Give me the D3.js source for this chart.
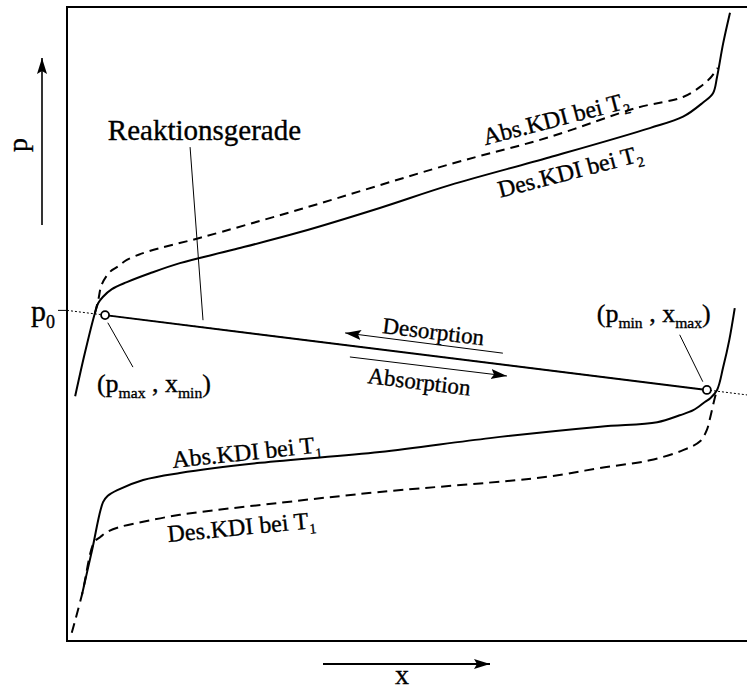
<!DOCTYPE html>
<html>
<head>
<meta charset="utf-8">
<script src="https://cdn.jsdelivr.net/npm/d3@7"></script>
<style>
body { margin: 0; background: #fff; }
svg text { font-family: "Liberation Serif", Tinos, "Times New Roman", Times, "DejaVu Serif", serif; fill: #000; stroke: #000; stroke-width: 0.35px; white-space: pre; }
</style>
</head>
<body>
<script>
// isotherms, x and p in % of the diagram range (schematic, no ticks)
var desT2X = [1.2, 2.6, 4.1, 4.6, 5.3, 6.6, 8.8, 12.2, 16.6, 24.4, 34.3, 46.0, 56.3, 71.0, 85.7, 90.6, 93.5, 95.0, 95.6, 96.5, 97.5];
var desT2P = [38.6, 45.3, 51.7, 53.3, 54.3, 55.5, 56.6, 58.0, 59.6, 61.7, 64.5, 68.3, 71.9, 76.3, 80.9, 82.7, 84.9, 86.4, 89.0, 94.3, 99.1];

var absT2X = [4.1, 4.6, 5.1, 6.3, 7.4, 8.8, 11.8, 19.6, 34.3, 56.3, 71.0, 83.8, 90.6, 93.1, 94.6, 95.7];
var absT2P = [51.7, 53.8, 56.2, 58.2, 59.0, 60.1, 61.4, 63.6, 68.1, 75.2, 79.5, 84.1, 85.8, 87.4, 88.8, 90.4];

var absT1X = [2.2, 3.7, 5.3, 6.0, 7.4, 11.2, 16.6, 28.4, 46.0, 62.2, 78.4, 86.8, 90.1, 92.1, 93.8, 94.6, 95.6, 96.5, 97.4, 98.2];
var absT1P = [7.3, 14.4, 21.9, 22.9, 23.8, 25.4, 26.5, 28.1, 29.8, 32.0, 33.8, 34.5, 35.6, 36.4, 37.7, 38.3, 39.6, 43.2, 47.5, 52.5];

var desT1X = [0.7, 2.2, 4.0, 4.9, 5.9, 7.8, 11.2, 16.6, 31.3, 46.0, 70.6, 78.4, 85.7, 90.6, 93.1, 94.1, 94.6, 95.3, 95.6];
var desT1P = [1.3, 7.3, 15.6, 16.4, 17.2, 18.0, 18.8, 19.9, 21.8, 23.5, 25.9, 27.3, 28.5, 30.1, 31.5, 33.3, 35.3, 38.5, 39.6];

// Reaktionsgerade: (p_max, x_min) -> (p_min, x_max)
var reactX = [5.6, 94.1];
var reactP = [51.4, 39.6];

var labels = [
  {text: "Reaktionsgerade", x: 6.0, p: 79.1, angle: 0, size: 29},
  {text: "Abs.KDI bei T_{2}", x: 61.5, p: 78.2, angle: -14.5, size: 24},
  {text: "Des.KDI bei T_{2}", x: 63.7, p: 69.9, angle: -14.5, size: 24},
  {text: "Abs.KDI bei T_{1}", x: 15.6, p: 27.3, angle: -6, size: 24},
  {text: "Des.KDI bei T_{1}", x: 14.9, p: 15.6, angle: -5.5, size: 24},
  {text: "Desorption", x: 46.3, p: 48.6, angle: 7, size: 23},
  {text: "Absorption", x: 44.1, p: 40.7, angle: 7, size: 23},
  {text: "(p_{max} , x_{min})", x: 4.4, p: 39.3, angle: 0, size: 26},
  {text: "(p_{min} , x_{max})", x: 77.9, p: 50.3, angle: 0, size: 26}
];

var pointers = [
  [[18.1, 77.9], [20.0, 50.6]],
  [[6.0, 50.2], [9.7, 43.2]],
  [[90.1, 48.3], [93.5, 40.9]]
];

var arrows = [
  [[64.1, 45.4], [40.9, 48.6]],
  [[41.6, 44.8], [64.7, 41.8]]
];

var width = 747, height = 691;
var margin = {top: 7, right: 0, bottom: 50, left: 67};

var x = d3.scaleLinear().domain([0, 100]).range([margin.left, width - margin.right]);
var y = d3.scaleLinear().domain([0, 100]).range([height - margin.bottom, margin.top]);

var svg = d3.select("body").append("svg")
    .attr("width", width)
    .attr("height", height)
    .attr("font-family", "Liberation Serif, Tinos, Times New Roman, DejaVu Serif, serif");

var defs = svg.append("defs");
defs.append("marker")
    .attr("id", "head")
    .attr("markerUnits", "userSpaceOnUse")
    .attr("viewBox", "0 -6 16 12")
    .attr("refX", 16).attr("refY", 0)
    .attr("markerWidth", 16).attr("markerHeight", 12)
    .attr("orient", "auto")
  .append("path")
    .attr("d", "M0,-5L16,0L0,5L3,0Z");

var line = d3.line()
    .x(function(d) { return x(d[0]); })
    .y(function(d) { return y(d[1]); })
    .curve(d3.curveCatmullRom.alpha(0.5));

var straight = d3.line()
    .x(function(d) { return x(d[0]); })
    .y(function(d) { return y(d[1]); });

// frame, open on the right
svg.append("path")
    .attr("d", "M" + x(100) + "," + y(100) + "H" + x(0) + "V" + y(0) + "H" + x(100))
    .attr("fill", "none")
    .attr("stroke", "#000")
    .attr("stroke-width", 2);

// p0 : reaction line extended (dotted) to the axis
var slope = (reactP[1] - reactP[0]) / (reactX[1] - reactX[0]);
var p0 = reactP[0] - slope * reactX[0];
var pEnd = reactP[0] + slope * (100 - reactX[0]);

svg.append("path")
    .attr("d", straight([[0, p0], [100, pEnd]]))
    .attr("stroke", "#000")
    .attr("stroke-width", 1)
    .attr("stroke-dasharray", "2,2");

svg.append("line")
    .attr("x1", x(0) - 9).attr("x2", x(0))
    .attr("y1", y(p0)).attr("y2", y(p0))
    .attr("stroke", "#000");

var curves = [
  {xs: desT2X, ps: desT2P, dash: null},
  {xs: absT2X, ps: absT2P, dash: "9,6"},
  {xs: absT1X, ps: absT1P, dash: null},
  {xs: desT1X, ps: desT1P, dash: "10,6"}
];

svg.selectAll("path.kdi")
    .data(curves)
    .enter()
    .append("path")
    .attr("class", "kdi")
    .attr("d", function(d) { return line(d3.zip(d.xs, d.ps)); })
    .attr("fill", "none")
    .attr("stroke", "#000")
    .attr("stroke-width", 2)
    .attr("stroke-dasharray", function(d) { return d.dash; });

// Reaktionsgerade
svg.append("path")
    .attr("d", straight(d3.zip(reactX, reactP)))
    .attr("stroke", "#000")
    .attr("stroke-width", 2);

svg.selectAll("path.pointer")
    .data(pointers)
    .enter()
    .append("path")
    .attr("class", "pointer")
    .attr("d", straight)
    .attr("stroke", "#000")
    .attr("stroke-width", 1);

svg.selectAll("path.arrow")
    .data(arrows)
    .enter()
    .append("path")
    .attr("class", "arrow")
    .attr("d", straight)
    .attr("stroke", "#000")
    .attr("stroke-width", 1)
    .attr("marker-end", "url(#head)");

svg.selectAll("circle.end")
    .data(d3.zip(reactX, reactP))
    .enter()
    .append("circle")
    .attr("class", "end")
    .attr("cx", function(d) { return x(d[0]); })
    .attr("cy", function(d) { return y(d[1]); })
    .attr("r", 4)
    .attr("fill", "#fff")
    .attr("stroke", "#000")
    .attr("stroke-width", 1.8);

// text with _{..} subscripts
function rich(g, str, size) {
  var t = g.append("text").attr("font-size", size);
  var shift = 0;
  str.split(/(_\{[^}]*\})/).forEach(function(s) {
    if (!s) return;
    var sub = s.indexOf("_{") === 0;
    var ts = t.append("tspan").text(sub ? s.slice(2, -1) : s);
    if (sub) {
      ts.attr("font-size", size * 0.6).attr("dy", size * 0.22);
      shift = size * 0.22;
    } else if (shift) {
      ts.attr("dy", -shift);
      shift = 0;
    }
  });
  return t;
}

labels.forEach(function(d) {
  var g = svg.append("g")
      .attr("transform", "translate(" + x(d.x) + "," + y(d.p) + ") rotate(" + d.angle + ")");
  rich(g, d.text, d.size);
});

rich(svg.append("g").attr("transform", "translate(" + (x(0) - 12) + "," + (y(p0) + 11) + ")"), "p_{0}", 30)
    .attr("text-anchor", "end");

// axis arrows
svg.append("line")
    .attr("x1", margin.left - 25).attr("x2", margin.left - 25)
    .attr("y1", 225).attr("y2", 58)
    .attr("stroke", "#000").attr("stroke-width", 1.6)
    .attr("marker-end", "url(#head)");

svg.append("text")
    .attr("transform", "translate(" + (margin.left - 40) + ",145) rotate(-90)")
    .attr("text-anchor", "middle")
    .attr("font-size", 28)
    .text("p");

svg.append("line")
    .attr("x1", 323).attr("x2", 490)
    .attr("y1", y(0) + 23).attr("y2", y(0) + 23)
    .attr("stroke", "#000").attr("stroke-width", 2)
    .attr("marker-end", "url(#head)");

svg.append("text")
    .attr("x", 402).attr("y", 684)
    .attr("text-anchor", "middle")
    .attr("font-size", 28)
    .text("x");
</script>
</body>
</html>
